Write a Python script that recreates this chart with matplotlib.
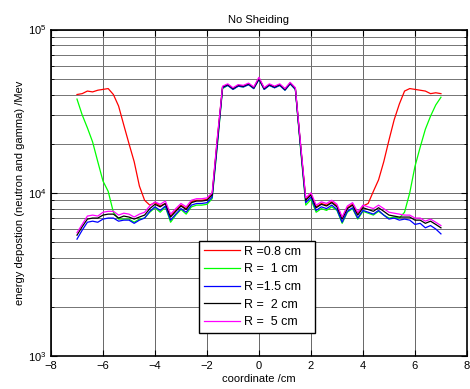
import numpy as np
import matplotlib.pyplot as plt
from matplotlib.ticker import LogLocator, NullFormatter

plt.rcParams['font.family'] = ['Liberation Sans', 'DejaVu Sans']

# sample positions (cm), -7 ... 7 in steps of 0.2
coord = np.linspace(-7, 7, 71)

# energy deposition, in units of 1e3 MeV
r08 = [40, 40.5, 42, 41.5, 42.5, 43, 43.5, 40, 34, 26, 20, 15.5, 11, 9.0, 8.4,
       8.7, 8.3, 8.6, 7.2, 7.8, 8.4, 8.0, 8.8, 9.0, 9.0, 9.1, 9.8, 21.5,
       44.5, 46, 43.5, 45.5, 45, 46.5, 44, 50.5, 43.5, 46, 44.5, 46, 43, 47, 43.5,
       19.5, 9.1, 9.8, 8.2, 8.6, 8.4, 8.8, 8.3, 7.0, 8.1, 8.5, 7.5, 8.3,
       8.6, 10.2, 12, 15.5, 21, 28, 35, 42, 43.5, 43, 42.5, 42, 40.5, 41, 40.5]
r1 = [37.5, 30, 25, 20.5, 15.5, 11.8, 10.2, 7.6, 6.9, 6.9, 6.9, 6.6, 6.9, 7.0, 7.6,
      8.1, 7.6, 8.2, 6.6, 7.3, 7.9, 7.4, 8.2, 8.4, 8.4, 8.5, 9.2, 19.5,
      43.5, 45.5, 43, 45, 44.5, 46, 43.5, 49.5, 43, 45.5, 44, 45.5, 42.5, 46.5, 43,
      18.5, 8.4, 9.1, 7.6, 8.0, 7.8, 8.2, 7.8, 6.5, 7.6, 8.0, 6.9, 7.7,
      7.5, 7.3, 7.7, 7.3, 7.0, 7.1, 7.0, 7.6, 10.0, 14.5, 19, 24.5, 29.5, 34.5, 38.5]
r15 = [5.2, 5.9, 6.6, 6.7, 6.6, 6.9, 7.0, 7.0, 6.7, 6.8, 6.8, 6.5, 6.8, 7.0, 7.7,
       8.2, 7.8, 8.3, 6.8, 7.4, 8.0, 7.6, 8.4, 8.6, 8.6, 8.7, 9.4, 20,
       44, 45.5, 43, 45, 44.5, 46, 43.5, 49.5, 43, 45.5, 44, 45.5, 42.5, 46.5, 43,
       19, 8.7, 9.4, 7.8, 8.2, 8.0, 8.4, 7.9, 6.6, 7.7, 8.1, 7.0, 7.8,
       7.6, 7.4, 7.8, 7.3, 6.9, 7.0, 6.8, 6.9, 6.8, 6.4, 6.5, 6.1, 6.3, 6.0, 5.6]
r2 = [5.5, 6.2, 6.9, 7.0, 7.0, 7.3, 7.4, 7.4, 7.0, 7.2, 7.1, 6.9, 7.1, 7.3, 8.0,
      8.5, 8.2, 8.6, 7.1, 7.7, 8.3, 7.9, 8.7, 8.9, 8.9, 9.0, 9.7, 21,
      44.5, 46, 43.5, 45.5, 45, 46.5, 44, 50, 43.5, 46, 44.5, 46, 43, 47, 43.5,
      19.5, 9.0, 9.7, 8.1, 8.5, 8.3, 8.7, 8.2, 6.9, 8.0, 8.4, 7.3, 8.1,
      7.9, 7.7, 8.1, 7.7, 7.3, 7.2, 7.1, 7.1, 7.1, 6.8, 6.8, 6.5, 6.7, 6.4, 6.1]
r5 = [5.7, 6.4, 7.2, 7.3, 7.2, 7.6, 7.7, 7.7, 7.3, 7.5, 7.4, 7.1, 7.4, 7.6, 8.3,
      8.8, 8.5, 8.9, 7.4, 8.0, 8.6, 8.2, 9.0, 9.2, 9.2, 9.3, 10.0, 22,
      45, 46.5, 44, 46, 45.5, 47, 44.5, 51, 44, 46.5, 45, 46.5, 43.5, 47.5, 44,
      20, 9.3, 10.0, 8.4, 8.8, 8.6, 9.0, 8.5, 7.1, 8.3, 8.7, 7.6, 8.4,
      8.2, 8.0, 8.4, 8.0, 7.6, 7.5, 7.4, 7.3, 7.3, 7.0, 7.0, 6.7, 6.9, 6.6, 6.3]

series = [r08, r1, r15, r2, r5]
labels = ['R =0.8 cm', 'R =  1 cm', 'R =1.5 cm', 'R =  2 cm', 'R =  5 cm']
colors = ['#ff0000', '#00ff00', '#0000ff', '#000000', '#ff00ff']

fig = plt.figure(figsize=(4.7, 3.89), dpi=100)
ax = fig.add_axes([0.1085, 0.0848, 0.885, 0.8392])

for vals, lab, c in zip(series, labels, colors):
    ax.plot(coord, np.array(vals) * 1000, color=c, lw=0.9, label=lab)

ax.set_yscale('log')
ax.set_xlim(-8, 8)
ax.set_ylim(1e3, 1e5)
ax.set_xticks(range(-8, 9, 2))
ax.yaxis.set_minor_locator(LogLocator(base=10, subs=np.arange(2, 10)))
ax.yaxis.set_minor_formatter(NullFormatter())
ax.grid(True, which='major', color='0.4', lw=0.7)
ax.grid(True, which='minor', axis='y', color='0.45', lw=0.7)
ax.tick_params(which='both', direction='in', top=True, right=True, labelsize=8)
ax.tick_params(which='major', length=4)
ax.tick_params(which='minor', length=2.5)
for s in ax.spines.values():
    s.set_linewidth(1.2)

ax.set_title('No Sheiding', fontsize=8, pad=5)
ax.set_xlabel('coordinate /cm', fontsize=8, labelpad=2)
ax.set_ylabel('energy depostion (neutron and gamma) /Mev', fontsize=8, labelpad=2)

leg = ax.legend(loc='lower left', bbox_to_anchor=(0.356, 0.07, 0.279, 0.288),
                mode='expand', fontsize=9, handlelength=2.9, handletextpad=0.3,
                borderaxespad=0, fancybox=False, framealpha=1, labelspacing=0.45)
leg.get_frame().set_edgecolor('black')
leg.get_frame().set_linewidth(1.0)

fig.savefig('out.png', dpi=100)
